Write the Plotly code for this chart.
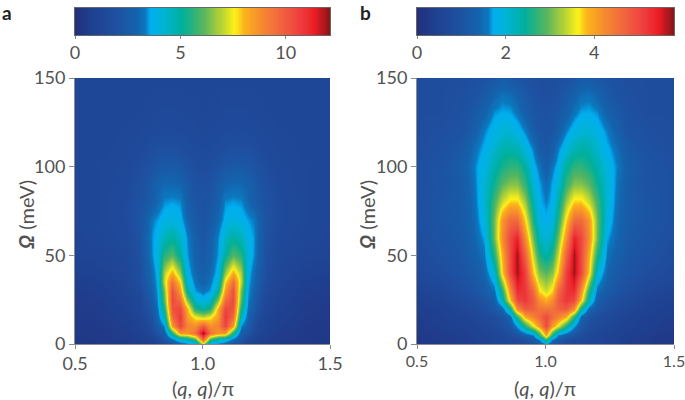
import plotly.graph_objects as go

W, H = 685, 400

# colour scale
scale = [
    [0.00, "#22307c"], [0.06, "#1f3f8f"], [0.15, "#1f4e9f"], [0.24, "#1463ad"],
    [0.275, "#0b78bf"], [0.295, "#00aeef"], [0.34, "#00b3d8"], [0.42, "#00b09a"],
    [0.50, "#55b560"], [0.57, "#b4d234"], [0.625, "#fdf01a"], [0.66, "#fbb41a"],
    [0.72, "#f68f2c"], [0.80, "#f0673e"], [0.88, "#ee3f3f"], [0.94, "#ea1c24"],
    [1.00, "#7f1416"],
]

# panel a: left half of the map, the right half mirrors it
q_a = [0.5, 0.6, 0.7, 0.75, 0.78, 0.80, 0.82, 0.85, 0.88, 0.91, 0.94, 0.97, 1.0]
omega_a = [0, 3, 6, 10, 15, 20, 25, 30, 35, 40, 50, 60, 70, 80, 90, 100, 110, 120, 135, 150]
z_a = [
    [0.4, 0.45, 0.5, 0.6, 0.7, 0.8, 1.0, 1.5, 2.2, 2.8, 3.2, 3.4, 7.0],
    [0.4, 0.45, 0.55, 0.7, 0.8, 1.0, 1.4, 2.2, 3.2, 4.3, 4.8, 6.0, 10.0],
    [0.45, 0.5, 0.6, 0.85, 1.1, 1.5, 2.1, 2.6, 5.4, 8.6, 8.6, 9.5, 12.0],
    [0.45, 0.5, 0.7, 0.95, 1.2, 1.7, 2.5, 3.4, 8.5, 10.5, 9.0, 8.7, 10.0],
    [0.5, 0.55, 0.8, 1.1, 1.5, 2.0, 2.9, 4.5, 9.6, 10.8, 8.5, 7.5, 7.0],
    [0.5, 0.6, 0.9, 1.25, 1.8, 2.4, 3.1, 5.3, 10.2, 10.5, 8.2, 5.5, 5.0],
    [0.55, 0.65, 1.0, 1.35, 2.0, 2.6, 3.4, 6.0, 10.4, 9.5, 6.5, 4.3, 3.8],
    [0.6, 0.75, 1.1, 1.5, 2.2, 2.8, 3.5, 6.3, 10.3, 8.5, 5.0, 3.5, 3.2],
    [0.7, 0.85, 1.2, 1.7, 2.4, 3.0, 3.6, 7.0, 9.5, 7.7, 4.2, 3.2, 2.8],
    [0.85, 1.0, 1.3, 1.8, 2.5, 3.1, 3.7, 6.8, 8.2, 6.6, 3.8, 3.0, 2.7],
    [1.1, 1.2, 1.4, 1.9, 2.7, 3.4, 4.0, 5.5, 6.0, 5.0, 3.5, 2.8, 2.4],
    [1.2, 1.3, 1.5, 2.0, 2.8, 3.45, 3.8, 4.6, 5.0, 4.4, 3.4, 2.7, 2.2],
    [1.25, 1.35, 1.6, 2.1, 2.7, 3.3, 3.5, 3.8, 4.0, 3.7, 3.0, 2.4, 2.1],
    [1.3, 1.35, 1.6, 2.0, 2.3, 2.6, 3.0, 3.42, 3.5, 3.42, 2.7, 2.2, 2.0],
    [1.3, 1.35, 1.5, 1.9, 2.1, 2.5, 2.8, 3.0, 3.0, 2.9, 2.5, 2.0, 1.9],
    [1.3, 1.35, 1.45, 1.7, 1.9, 2.1, 2.3, 2.4, 2.4, 2.3, 2.0, 1.8, 1.7],
    [1.3, 1.3, 1.4, 1.5, 1.65, 1.75, 1.85, 1.9, 1.9, 1.8, 1.7, 1.6, 1.55],
    [1.3, 1.3, 1.35, 1.4, 1.45, 1.5, 1.55, 1.6, 1.6, 1.55, 1.5, 1.45, 1.4],
    [1.3, 1.3, 1.3, 1.3, 1.35, 1.35, 1.4, 1.4, 1.4, 1.4, 1.35, 1.35, 1.3],
    [1.3, 1.3, 1.3, 1.3, 1.3, 1.3, 1.3, 1.3, 1.3, 1.3, 1.3, 1.3, 1.3],
]

# panel b: left half of the map, the right half mirrors it
q_b = [0.5, 0.6, 0.68, 0.72, 0.76, 0.80, 0.83, 0.86, 0.89, 0.92, 0.95, 0.975, 1.0]
omega_b = [0, 2, 5, 10, 15, 20, 25, 30, 40, 50, 60, 70, 80, 90, 100, 110, 120, 130, 140, 150]
z_b = [
    [0.2, 0.25, 0.3, 0.4, 0.45, 0.55, 0.6, 0.65, 0.7, 0.8, 1.0, 1.2, 1.6],
    [0.2, 0.25, 0.3, 0.4, 0.45, 0.55, 0.6, 0.65, 0.7, 0.85, 1.1, 1.5, 2.6],
    [0.22, 0.28, 0.35, 0.45, 0.5, 0.6, 0.65, 0.8, 1.0, 1.3, 1.6, 2.6, 4.0],
    [0.25, 0.35, 0.45, 0.5, 0.6, 0.7, 0.85, 1.1, 1.7, 2.6, 3.5, 4.1, 5.0],
    [0.3, 0.4, 0.5, 0.6, 0.7, 0.8, 1.0, 1.4, 2.6, 3.9, 4.3, 4.6, 5.0],
    [0.35, 0.45, 0.6, 0.7, 0.85, 1.1, 1.4, 2.4, 4.2, 4.8, 4.7, 4.5, 4.5],
    [0.4, 0.55, 0.7, 0.85, 1.0, 1.3, 2.2, 3.8, 5.0, 5.2, 4.8, 4.2, 3.9],
    [0.5, 0.65, 0.85, 1.0, 1.2, 1.5, 2.6, 4.2, 5.3, 5.2, 4.6, 3.7, 3.4],
    [0.7, 0.85, 1.0, 1.15, 1.4, 2.0, 3.7, 5.0, 5.7, 5.1, 3.8, 3.1, 2.9],
    [0.8, 0.95, 1.1, 1.3, 1.55, 2.6, 3.9, 5.0, 5.7, 4.7, 3.4, 2.6, 2.3],
    [0.85, 1.0, 1.15, 1.4, 1.7, 3.0, 4.2, 5.0, 5.4, 4.2, 3.0, 2.2, 1.95],
    [0.9, 1.05, 1.2, 1.45, 1.9, 3.0, 4.1, 4.6, 4.6, 3.7, 2.6, 1.9, 1.75],
    [0.9, 1.05, 1.2, 1.5, 2.0, 2.8, 3.4, 3.75, 3.75, 3.2, 2.3, 1.75, 1.6],
    [0.9, 1.0, 1.2, 1.55, 2.0, 2.5, 2.9, 3.1, 3.1, 2.7, 2.0, 1.7, 1.48],
    [0.9, 1.0, 1.25, 1.6, 1.9, 2.3, 2.55, 2.7, 2.7, 2.4, 1.8, 1.55, 1.25],
    [0.85, 0.95, 1.15, 1.5, 1.75, 2.05, 2.3, 2.35, 2.25, 1.95, 1.6, 1.25, 1.1],
    [0.85, 0.9, 1.0, 1.3, 1.6, 1.85, 2.0, 2.0, 1.85, 1.6, 1.25, 1.05, 1.0],
    [0.85, 0.85, 0.95, 1.15, 1.35, 1.65, 1.72, 1.7, 1.55, 1.3, 1.1, 1.0, 0.95],
    [0.85, 0.85, 0.9, 1.0, 1.15, 1.4, 1.55, 1.5, 1.35, 1.15, 1.0, 0.9, 0.85],
    [0.85, 0.85, 0.85, 0.9, 1.0, 1.1, 1.2, 1.15, 1.05, 0.95, 0.9, 0.85, 0.85],
]

ticks_a = [0, 5, 10]
ticks_b = [0, 2, 4]
zmax_a = 12.1
zmax_b = 5.8

TXT = "#525252"
LINE = "#8c8c8c"
FONT = "Lato"
STEPS = 240


def full_q(q):
    return q + [2 - v for v in reversed(q[:-1])]


def full_z(z):
    return [row + row[-2::-1] for row in z]


def ramp(zmax):
    return [i * zmax / STEPS for i in range(STEPS + 1)]


def add_map(q, omega, z, zmax, xa, ya):
    fig.add_trace(go.Heatmap(x=full_q(q), y=omega, z=full_z(z), zmin=0, zmax=zmax, zsmooth="best",
                             colorscale=scale, showscale=False, xaxis=xa, yaxis=ya))


def add_bar(zmax, xa, ya):
    # colour bar drawn as its own thin map
    levels = ramp(zmax)
    fig.add_trace(go.Heatmap(x=levels, y=[0, 1], z=[levels, levels], zmin=0, zmax=zmax, zsmooth="best",
                             colorscale=scale, showscale=False, xaxis=xa, yaxis=ya))


def label(text, px, py, size=20, color=TXT, angle=0):
    return dict(text=text, xref="paper", yref="paper", x=px / W, y=1 - py / H, xanchor="center", yanchor="middle",
                showarrow=False, textangle=angle, font=dict(family=FONT, size=size, color=color))


fig = go.Figure()
add_map(q_a, omega_a, z_a, zmax_a, "x", "y")
add_map(q_b, omega_b, z_b, zmax_b, "x2", "y2")
add_bar(zmax_a, "x3", "y3")
add_bar(zmax_b, "x4", "y4")

tickfont = dict(family=FONT, size=18, color=TXT)
xax = dict(range=[0.5, 1.5], tickvals=[0.5, 1.0, 1.5], ticktext=["0.5", "1.0", "1.5"], ticks="outside",
           ticklen=4, tickcolor=LINE, showline=True, linecolor=LINE, linewidth=1, showgrid=False, zeroline=False,
           tickfont=tickfont, ticklabeloverflow="allow", ticklabelstandoff=-1)
yax = dict(range=[0, 150], tickvals=[0, 50, 100, 150], ticks="outside", ticklen=5, tickcolor=LINE,
           showline=True, linecolor=LINE, linewidth=1, showgrid=False, zeroline=False,
           tickfont=tickfont)
bar_x = dict(ticks="outside", ticklen=3, tickcolor=LINE, showgrid=False, zeroline=False, tickfont=tickfont,
             showline=True, linecolor="#666666", linewidth=1, mirror=True, ticklabelstandoff=-2)
bar_y = dict(range=[0, 1], showticklabels=False, ticks="", showgrid=False, zeroline=False,
             showline=True, linecolor="#666666", linewidth=1, mirror=True)

dom_y = [1 - 344 / H, 1 - 78 / H]
bar_dom = [1 - 35 / H, 1 - 8 / H]

fig.update_layout(
    width=W, height=H, margin=dict(l=0, r=0, t=0, b=0, autoexpand=False), paper_bgcolor="white", plot_bgcolor="white",
    xaxis=dict(xax, domain=[75 / W, 330 / W], anchor="y"),
    yaxis=dict(yax, domain=dom_y, anchor="x"),
    # slightly smaller labels so the last one stays inside the page
    xaxis2=dict(xax, domain=[417 / W, 674 / W], anchor="y2", tickfont=dict(tickfont, size=16)),
    yaxis2=dict(yax, domain=dom_y, anchor="x2"),
    xaxis3=dict(bar_x, domain=[75 / W, 330 / W], anchor="y3", range=[0, zmax_a], tickvals=ticks_a),
    yaxis3=dict(bar_y, domain=bar_dom, anchor="x3"),
    xaxis4=dict(bar_x, domain=[417 / W, 674 / W], anchor="y4", range=[0, zmax_b], tickvals=ticks_b),
    yaxis4=dict(bar_y, domain=bar_dom, anchor="x4"),
    annotations=[
        label("<b>a</b>", 7, 13, size=19, color="#222222"),
        label("<b>b</b>", 365, 13, size=19, color="#222222"),
        label("(<i>q</i>, <i>q</i>)/π", 203, 388),
        label("(<i>q</i>, <i>q</i>)/π", 545, 388),
        label("<b><i>Ω</i></b> (meV)", 26, 215, angle=-90),
        label("<b><i>Ω</i></b> (meV)", 367, 215, angle=-90),
    ],
)

# the browser's default body margin would shift the whole figure by 8 px
fig.write_html("out.html", config=dict(displayModeBar=False), post_script="document.body.style.margin = '0';")
